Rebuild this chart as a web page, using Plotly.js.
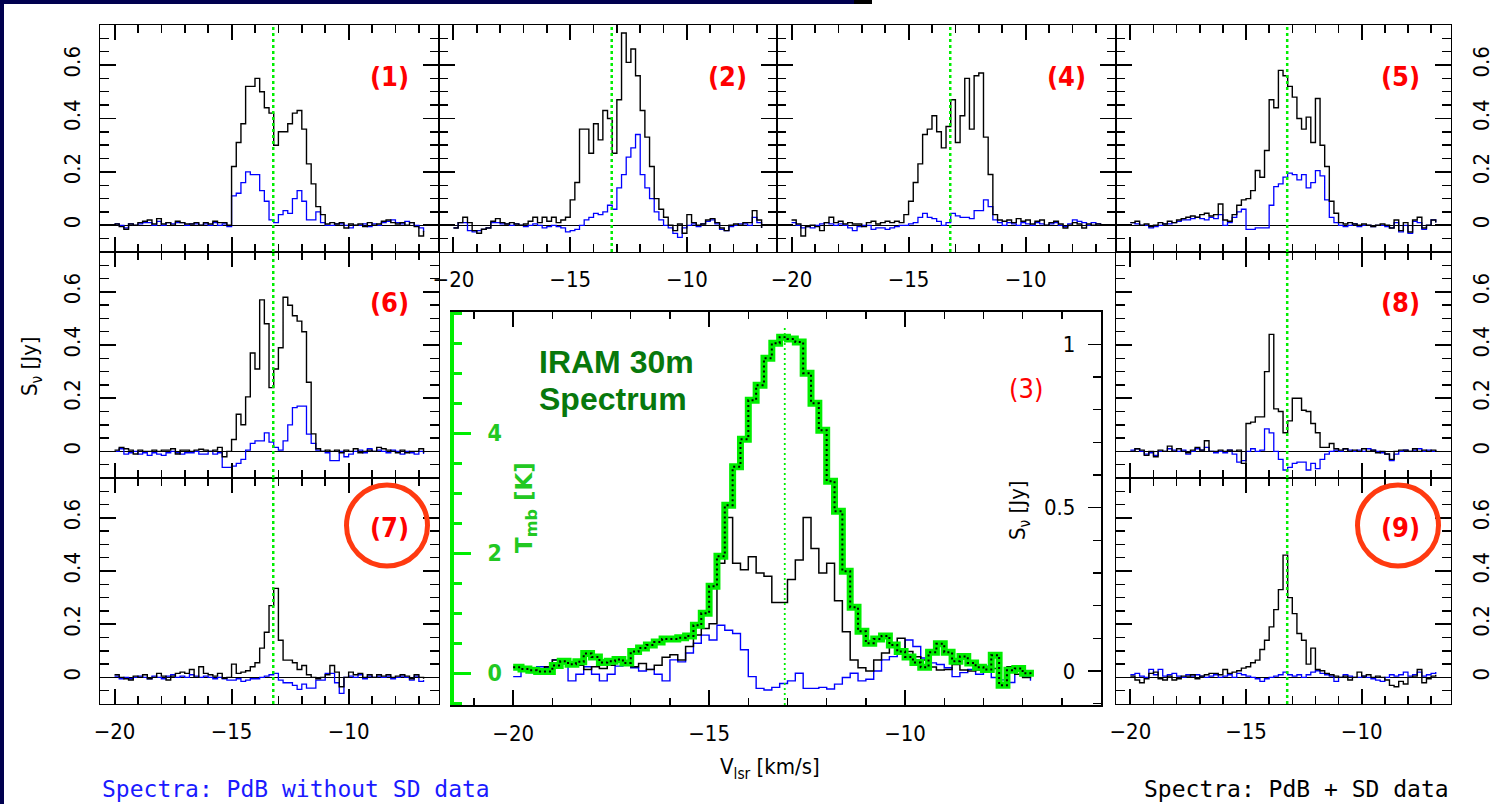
<!DOCTYPE html>
<html>
<head>
<meta charset="utf-8">
<script src="https://cdn.plot.ly/plotly-3.0.1.min.js"></script>
<style>
  html, body { margin: 0; padding: 0; background: #ffffff; }
  #chart { width: 1499px; height: 804px; }
</style>
</head>
<body>
<div id="chart"></div>
<script>
// Velocity channels (km/s), 0.2 km/s wide, left edge of each channel
const velocity = [-20.0,-19.8,-19.6,-19.4,-19.2,-19.0,-18.8,-18.6,-18.4,-18.2,
  -18.0,-17.8,-17.6,-17.4,-17.2,-17.0,-16.8,-16.6,-16.4,-16.2,
  -16.0,-15.8,-15.6,-15.4,-15.2,-15.0,-14.8,-14.6,-14.4,-14.2,
  -14.0,-13.8,-13.6,-13.4,-13.2,-13.0,-12.8,-12.6,-12.4,-12.2,
  -12.0,-11.8,-11.6,-11.4,-11.2,-11.0,-10.8,-10.6,-10.4,-10.2,
  -10.0,-9.8,-9.6,-9.4,-9.2,-9.0,-8.8,-8.6,-8.4,-8.2,
  -8.0,-7.8,-7.6,-7.4,-7.2,-7.0,-6.8];

// Systemic velocity marker (km/s)
const vSysSmall = -13.22;
const vSysCentral = -13.07;

// Tick labels
const velTicks = [-20, -15, -10];
const tmbTicks = [0, 2, 4];
const fluxTicksCentral = [0, 0.5, 1];

// S_nu [Jy], PdB + SD data (black) and PdB without SD data (blue), per position
const withSd1 = [0.005,-0.005,-0.015,0.005,0.0,0.01,0.015,0.02,0.005,0.025,0.005,0.01,0.0,0.015,0.01,0.005,0.005,0.01,0.0,0.01,0.005,0.015,0.01,0.01,0.0,
  0.22,0.31,0.38,0.52,0.52,0.55,0.50,0.44,0.42,0.30,0.35,0.35,0.38,0.42,0.43,0.36,0.23,0.155,0.07,0.04,0.005,
  0.01,0.005,0.01,-0.01,0.005,0.0,0.005,-0.005,0.01,0.0,0.005,0.015,0.02,0.01,0.005,0.01,0.0,0.01,-0.005,-0.04,-0.02];
const noSd1 = [0.005,0.0,-0.01,0.005,0.0,0.005,0.01,0.01,0.0,0.015,0.0,0.01,0.005,0.01,0.01,0.0,0.005,0.005,0.0,0.005,0.0,0.01,0.0,0.005,-0.005,
  0.11,0.12,0.16,0.20,0.19,0.19,0.13,0.09,0.02,0.01,0.04,0.055,0.045,0.10,0.13,0.09,0.02,0.02,0.05,0.01,0.0,
  0.0,0.005,0.005,0.0,-0.01,0.0,0.0,0.005,-0.005,0.005,0.0,0.01,0.015,0.02,0.01,0.005,0.015,0.01,0.0,-0.01,-0.025];

const withSd2 = [-0.01,0.01,0.03,0.01,-0.02,-0.03,-0.015,-0.01,0.015,0.025,0.01,0.005,0.01,0.005,0.0,0.005,0.015,0.03,0.01,0.03,0.015,0.03,0.01,0.02,0.03,
  0.095,0.16,0.36,0.36,0.27,0.38,0.32,0.43,0.40,0.27,0.47,0.72,0.61,0.66,0.56,0.43,0.33,0.22,0.10,0.06,0.03,
  0.0,-0.02,0.005,-0.03,0.04,0.01,0.0,0.005,0.02,0.025,0.01,-0.01,-0.02,0.0,0.005,0.0,0.01,0.01,0.055,0.02,-0.01];
const noSd2 = [-0.01,0.01,0.01,-0.02,-0.025,-0.02,-0.015,-0.01,0.01,0.01,0.005,0.005,0.0,0.005,0.0,-0.005,0.0,0.005,0.0,-0.01,-0.005,0.0,-0.005,-0.01,-0.025,
  -0.02,-0.015,0.0,0.02,0.03,0.045,0.04,0.05,0.075,0.06,0.14,0.19,0.255,0.29,0.34,0.19,0.14,0.10,0.05,0.02,0.0,
  -0.01,-0.03,-0.045,-0.01,0.0,0.005,-0.005,0.005,0.015,0.02,0.005,-0.015,-0.02,-0.005,0.0,0.005,0.005,0.0,0.03,0.01,-0.01];

const withSd4 = [0.02,0.005,-0.04,-0.005,0.0,-0.005,-0.02,0.01,0.03,0.01,0.015,0.005,0.01,0.005,0.005,-0.005,0.01,0.015,0.005,0.01,0.015,0.01,0.015,0.01,0.04,
  0.09,0.16,0.23,0.34,0.36,0.41,0.35,0.29,0.37,0.47,0.31,0.41,0.55,0.36,0.56,0.57,0.33,0.19,0.04,0.02,0.015,
  0.02,0.01,0.025,0.015,0.02,0.005,0.015,0.02,0.0,0.01,0.015,0.005,-0.01,0.0,0.01,0.005,-0.01,0.005,0.0,0.005,0.0];
const noSd4 = [0.01,0.0,-0.01,-0.005,-0.01,0.0,0.005,0.01,0.005,0.0,0.005,0.0,-0.01,-0.02,-0.005,0.0,0.0,-0.015,-0.01,-0.01,-0.015,-0.01,-0.005,0.0,0.0,
  0.005,0.01,0.03,0.045,0.03,0.025,0.015,0.0,0.01,0.045,0.035,0.03,0.03,0.025,0.055,0.055,0.095,0.07,0.02,0.01,0.0,
  0.01,0.005,0.0,0.01,0.005,0.0,0.01,0.005,0.0,0.005,0.01,0.0,-0.005,0.005,0.02,0.015,0.01,0.0,0.01,0.005,0.0];

const withSd5 = [0.01,0.015,0.0,0.005,-0.005,0.0,0.01,0.005,0.015,0.01,0.02,0.025,0.03,0.035,0.03,0.04,0.045,0.035,0.04,0.08,0.02,0.015,0.04,0.075,0.095,
  0.10,0.13,0.205,0.18,0.28,0.47,0.44,0.58,0.56,0.52,0.48,0.40,0.36,0.405,0.31,0.475,0.30,0.22,0.09,0.045,0.01,
  0.005,0.01,0.005,0.0,0.005,0.0,-0.005,0.0,0.005,0.0,-0.01,0.02,-0.02,0.01,-0.025,0.02,0.03,-0.01,0.0,0.02,0.01];
const noSd5 = [0.01,0.005,0.0,0.0,-0.01,-0.005,0.0,0.005,0.005,0.01,0.015,0.02,0.02,0.025,0.03,0.025,0.02,0.03,0.025,0.04,0.0,0.01,0.03,0.05,0.06,
  -0.015,-0.015,-0.01,-0.01,-0.01,0.075,0.145,0.155,0.18,0.195,0.19,0.17,0.19,0.14,0.16,0.205,0.185,0.095,0.03,0.01,0.0,
  -0.005,0.0,0.005,-0.005,0.0,0.0,-0.005,0.0,0.0,-0.005,-0.01,0.01,-0.025,0.0,-0.03,0.015,0.01,-0.015,0.0,0.02,0.01];

const withSd6 = [0.005,0.015,0.01,0.005,-0.01,0.005,0.0,0.0,0.005,0.0,0.005,0.005,0.01,-0.01,0.005,0.005,0.0,0.005,0.008,0.005,0.0,0.005,0.015,-0.02,0.0,
  0.045,0.14,0.10,0.205,0.37,0.31,0.57,0.48,0.24,0.31,0.39,0.58,0.55,0.51,0.49,0.45,0.26,0.066,0.01,0.0,0.005,
  0.0,0.005,-0.005,0.005,0.0,0.01,-0.005,0.0,0.005,0.0,0.015,0.01,0.005,0.0,-0.005,0.005,-0.005,0.0,0.0,0.01,-0.005];
const noSd6 = [0.0,0.01,-0.01,-0.005,0.0,-0.01,-0.005,-0.015,-0.005,-0.01,-0.015,-0.005,0.0,-0.005,-0.01,-0.005,-0.005,0.0,-0.01,-0.01,0.0,-0.01,-0.005,-0.06,-0.06,
  -0.055,-0.045,-0.03,0.005,0.03,0.04,0.04,0.07,0.035,0.015,0.005,0.04,0.10,0.165,0.17,0.17,0.065,0.03,0.005,0.0,-0.005,
  -0.035,-0.035,0.0,-0.02,-0.01,0.0,0.005,-0.005,0.01,0.0,0.005,0.0,-0.005,0.005,0.0,-0.01,0.0,-0.005,-0.01,0.0,-0.01];

const withSd7 = [0.01,0.0,-0.005,-0.01,0.005,0.0,0.01,-0.005,0.0,0.015,0.005,-0.01,0.005,0.015,0.02,0.015,0.03,0.0,0.04,0.015,0.01,0.005,0.015,-0.003,0.0,
  0.05,0.015,0.02,0.025,0.04,0.055,0.11,0.17,0.27,0.335,0.14,0.065,0.065,0.055,0.03,0.045,0.01,0.0,-0.005,0.0,0.01,
  0.045,0.02,-0.035,0.0,0.02,0.01,0.015,0.0,0.01,0.0,0.01,0.005,0.01,0.0,0.005,0.01,0.005,-0.005,0.01,0.0,-0.005];
const noSd7 = [0.005,-0.005,0.0,-0.005,0.0,0.005,0.0,-0.005,0.005,0.0,-0.005,0.005,0.01,0.0,0.005,0.0,0.01,0.005,0.0,0.005,0.0,-0.005,0.0,-0.005,-0.01,
  -0.01,-0.005,-0.015,-0.01,-0.005,-0.005,0.0,0.005,0.01,0.015,-0.01,-0.02,-0.02,-0.03,-0.045,-0.025,-0.04,-0.04,-0.01,-0.01,0.015,
  0.015,-0.02,-0.06,0.0,0.005,0.0,0.01,-0.005,0.005,0.0,0.005,0.0,0.005,-0.005,0.0,0.005,0.0,-0.01,0.005,-0.015,-0.01];

const withSd8 = [0.0,0.01,0.005,-0.015,0.0,-0.02,0.005,0.0,0.02,0.0,0.01,0.0,-0.005,0.005,0.015,0.005,0.04,0.0,0.0,0.005,0.0,0.005,0.0,0.005,-0.045,
  0.105,0.11,0.13,0.13,0.30,0.44,0.16,0.15,0.07,0.115,0.20,0.20,0.155,0.15,0.105,0.07,0.015,0.015,0.03,0.01,0.005,
  0.01,0.0,0.005,0.0,0.01,0.0,0.005,-0.005,0.0,-0.01,-0.03,0.0,0.005,0.005,0.0,0.01,0.0,0.005,0.0,0.005,0.0];
const noSd8 = [0.005,0.01,0.0,-0.01,-0.005,-0.015,0.0,0.0,0.01,0.005,0.0,0.005,-0.01,0.0,0.01,0.005,0.015,0.0,-0.005,0.0,-0.005,0.005,-0.01,-0.04,-0.035,
  0.0,0.01,0.0,0.005,0.085,0.07,0.0,-0.03,-0.07,-0.06,-0.045,-0.04,-0.04,-0.07,-0.045,-0.065,-0.03,-0.01,0.0,0.005,0.0,
  0.01,0.005,0.0,0.005,0.0,0.01,0.005,0.0,-0.005,-0.01,-0.035,-0.01,0.0,0.005,0.0,0.005,0.01,0.0,0.005,0.0,0.005];

const withSd9 = [0.005,-0.01,-0.02,-0.005,0.015,0.02,-0.005,-0.01,0.005,-0.01,-0.005,0.005,0.005,0.01,-0.005,0.005,0.01,0.015,0.015,0.01,0.03,0.015,0.02,0.025,0.035,
  0.04,0.055,0.065,0.105,0.14,0.19,0.255,0.33,0.46,0.30,0.24,0.165,0.14,0.05,0.11,0.03,0.025,0.015,0.01,0.005,0.0,
  0.005,-0.01,0.0,0.02,0.005,0.01,0.0,0.005,0.0,-0.01,-0.03,-0.035,-0.015,-0.025,0.0,0.005,0.03,-0.02,-0.005,0.005,0.01];
const noSd9 = [0.01,0.015,0.005,0.0,0.03,0.01,0.03,0.005,0.01,0.015,0.005,0.0,0.01,0.005,0.01,0.005,0.0,0.005,0.01,0.0,0.005,0.01,0.0,0.015,0.01,
  0.005,0.0,-0.005,-0.015,-0.005,0.0,0.005,0.01,0.02,0.01,0.005,0.01,0.0,0.01,0.02,0.025,0.015,0.01,0.005,-0.015,0.0,
  0.01,0.005,0.0,0.0,0.005,0.0,-0.005,-0.01,-0.015,0.0,0.01,0.005,0.01,0.02,0.005,0.01,0.02,0.005,0.01,0.015,0.02];

// Central position (3): interferometer spectra in Jy and the IRAM 30m spectrum in K
const withSd3 = [0.012,0.008,0.004,0.003,0.013,0.034,0.023,0.015,0.018,0.005,0.013,0.008,0.018,0.034,0.023,0.013,0.023,0.005,0.018,0.042,
  0.05,0.034,0.075,0.11,0.13,0.145,0.33,0.47,0.33,0.31,0.35,0.30,0.29,0.21,0.21,0.28,0.34,0.47,0.375,0.30,
  0.33,0.215,0.12,0.034,0.01,0.0,0.034,0.055,0.085,0.10,0.06,0.044,0.034,0.012,0.003,0.005,0.02,0.003,0.0,0.003,
  0.0,0.008,-0.04,0.013,-0.01,-0.02,-0.022];
const noSd3 = [-0.017,0.0,-0.005,0.013,0.01,0.034,0.03,-0.03,-0.01,0.013,-0.01,-0.03,-0.01,0.015,0.02,0.01,0.0,0.005,-0.01,-0.03,
  0.034,0.028,0.055,0.085,0.11,0.095,0.14,0.125,0.115,0.065,-0.017,-0.053,-0.058,-0.05,-0.038,-0.03,-0.007,-0.053,-0.053,-0.05,
  -0.055,-0.04,-0.02,-0.007,-0.03,-0.025,0.0,0.034,0.044,0.064,0.095,0.075,0.04,0.025,0.02,0.01,-0.017,-0.005,0.005,-0.01,
  0.015,-0.02,-0.027,-0.035,0.005,-0.015,-0.03];
const iram30m = [0.1,0.07,0.05,0.03,0.03,0.13,0.2,0.15,0.19,0.33,0.27,0.18,0.2,0.23,0.17,0.36,0.42,0.47,0.52,0.57,
  0.57,0.59,0.62,0.8,1.0,1.45,1.95,2.8,3.44,3.9,4.55,4.8,5.25,5.5,5.6,5.57,5.52,5.0,4.5,4.05,
  3.2,2.7,1.7,1.1,0.7,0.5,0.57,0.62,0.47,0.36,0.27,0.18,0.1,0.35,0.49,0.35,0.2,0.28,0.17,0.1,
  0.06,0.3,-0.2,0.05,0.08,0.0,-0.06];

// Axis ranges
const smallVelRange = [-20.62, -6.14];
const smallFluxRange = [-0.10, 0.75];
const centralVelRange = [-21.51, -5.0];
const centralFluxRange = [-0.104, 1.099];
const centralTmbRange = [-0.53, 6.02];

// ---- page geometry (pixels) ----
const W = 1499, H = 804;
const fx = p => p / W;
const fy = p => 1 - p / H;
const colEdges = [[100, 439], [439, 777], [777, 1116], [1116, 1451]];
const rowEdges = [[25, 252], [252, 478], [478, 704]];
const labelX = [389, 727, 1066, 1400];
const labelY = [76, 302, 527];

const thinFont = 'DejaVu Sans Condensed, DejaVu Sans, sans-serif';
const tickFont = { family: thinFont, size: 22, color: '#000000' };
const labelFont = { family: thinFont, size: 27, weight: 'bold', color: '#ff0000' };
const BLUE = '#0000ff';
const GREEN = '#00ee00';
const FRAME_W = 1.2;

const panels = [
  { label: '(1)', sd: withSd1, noSd: noSd1, col: 0, row: 0, xLabels: false },
  { label: '(2)', sd: withSd2, noSd: noSd2, col: 1, row: 0, xLabels: true },
  { label: '(4)', sd: withSd4, noSd: noSd4, col: 2, row: 0, xLabels: true },
  { label: '(5)', sd: withSd5, noSd: noSd5, col: 3, row: 0, xLabels: false },
  { label: '(6)', sd: withSd6, noSd: noSd6, col: 0, row: 1, xLabels: false },
  { label: '(8)', sd: withSd8, noSd: noSd8, col: 3, row: 1, xLabels: false },
  { label: '(7)', sd: withSd7, noSd: noSd7, col: 0, row: 2, xLabels: true, ring: true },
  { label: '(9)', sd: withSd9, noSd: noSd9, col: 3, row: 2, xLabels: true, ring: true }
];

const data = [];
const layout = {
  width: W, height: H,
  margin: { l: 0, r: 0, t: 0, b: 0 },
  paper_bgcolor: '#ffffff',
  plot_bgcolor: '#ffffff',
  showlegend: false,
  shapes: [],
  annotations: []
};

panels.forEach((p, i) => {
  const n = i + 1;
  const xs = n === 1 ? '' : String(n);
  const xName = 'x' + xs, yName = 'y' + xs;
  const [x0, x1] = colEdges[p.col];
  const [y0, y1] = rowEdges[p.row];

  data.push({ x: velocity, y: p.noSd, xaxis: xName, yaxis: yName, type: 'scatter', mode: 'lines',
    line: { shape: 'hv', color: BLUE, width: 1.3 }, hoverinfo: 'skip' });
  data.push({ x: velocity, y: p.sd, xaxis: xName, yaxis: yName, type: 'scatter', mode: 'lines',
    line: { shape: 'hv', color: '#000000', width: 1.4 }, hoverinfo: 'skip' });

  layout['xaxis' + xs] = {
    domain: [fx(x0), fx(x1)], range: smallVelRange, anchor: yName,
    showline: true, linecolor: '#000', linewidth: FRAME_W, mirror: 'ticks',
    ticks: 'inside', ticklen: 15, tickwidth: 2, tickcolor: '#000',
    tickmode: 'array', tickvals: velTicks,
    minor: { tickmode: 'linear', tick0: 0, dtick: 1, ticks: 'inside', ticklen: 8, tickwidth: 1.5, tickcolor: '#000' },
    showgrid: false, zeroline: false,
    showticklabels: p.xLabels, tickfont: tickFont, ticklabelstandoff: 7,
    fixedrange: true
  };
  layout['yaxis' + xs] = {
    domain: [fy(y1), fy(y0)], range: smallFluxRange, anchor: xName,
    side: p.col === 3 ? 'right' : 'left',
    showline: true, linecolor: '#000', linewidth: FRAME_W, mirror: 'ticks',
    ticks: 'inside', ticklen: 16, tickwidth: 1.6, tickcolor: '#000',
    tick0: 0, dtick: 0.2,
    minor: { dtick: 0.05, ticks: 'inside', ticklen: 9, tickwidth: 1.4, tickcolor: '#000' },
    showgrid: false, zeroline: true, zerolinecolor: '#000', zerolinewidth: 1,
    showticklabels: p.col === 0 || p.col === 3, tickangle: -90,
    tickfont: tickFont, ticklabelstandoff: 10,
    fixedrange: true
  };

  layout.shapes.push({ type: 'line', xref: xName, yref: yName + ' domain',
    x0: vSysSmall, x1: vSysSmall, y0: 0, y1: 1,
    line: { color: GREEN, width: 2.5, dash: '3px,3px' } });

  layout.annotations.push({ xref: 'paper', yref: 'paper', x: fx(labelX[p.col]), y: fy(labelY[p.row]),
    text: p.label, showarrow: false, xanchor: 'center', yanchor: 'middle', font: labelFont });

  if (p.ring) {
    const cx = labelX[p.col] - 2, cy = 525.5, r = 40.5;
    layout.shapes.push({ type: 'circle', xref: 'paper', yref: 'paper',
      x0: fx(cx - r), x1: fx(cx + r), y0: fy(cy + r), y1: fy(cy - r),
      line: { color: '#ff3a10', width: 5 } });
  }
});

// ---- central panel (3) ----
data.push({ x: velocity, y: iram30m, xaxis: 'x9', yaxis: 'y10', type: 'scatter', mode: 'lines',
  line: { shape: 'hv', color: GREEN, width: 7 }, hoverinfo: 'skip' });
data.push({ x: velocity, y: iram30m, xaxis: 'x9', yaxis: 'y10', type: 'scatter', mode: 'lines',
  line: { shape: 'hv', color: '#000000', width: 2, dash: '2px,3px' }, hoverinfo: 'skip' });
data.push({ x: velocity, y: noSd3, xaxis: 'x9', yaxis: 'y9', type: 'scatter', mode: 'lines',
  line: { shape: 'hv', color: BLUE, width: 1.4 }, hoverinfo: 'skip' });
data.push({ x: velocity, y: withSd3, xaxis: 'x9', yaxis: 'y9', type: 'scatter', mode: 'lines',
  line: { shape: 'hv', color: '#000000', width: 1.5 }, hoverinfo: 'skip' });

const cL = 454, cR = 1101, cT = 312, cB = 705;
layout.xaxis9 = {
  domain: [fx(cL), fx(cR)], range: centralVelRange, anchor: 'y9',
  showline: true, linecolor: '#000', linewidth: 1.6, mirror: 'ticks',
  ticks: 'inside', ticklen: 15, tickwidth: 2, tickcolor: '#000',
  tickmode: 'array', tickvals: velTicks,
  minor: { tickmode: 'linear', tick0: 0, dtick: 1, ticks: 'inside', ticklen: 7, tickwidth: 1.5, tickcolor: '#000' },
  showgrid: false, zeroline: false, tickfont: tickFont, ticklabelstandoff: 8,
  fixedrange: true
};
layout.yaxis9 = {
  domain: [fy(cB), fy(cT)], range: centralFluxRange, anchor: 'x9', side: 'right',
  showline: true, linecolor: '#000', linewidth: 1.6,
  ticks: 'inside', ticklen: 13, tickwidth: 1.6, tickcolor: '#000',
  tickmode: 'array', tickvals: fluxTicksCentral,
  minor: { tickmode: 'linear', tick0: 0, dtick: 0.1, ticks: 'inside', ticklen: 8, tickwidth: 1.4, tickcolor: '#000' },
  showgrid: false, zeroline: false,
  ticklabelposition: 'inside', ticklabeloverflow: 'allow', ticklabelstandoff: 14,
  tickfont: tickFont, fixedrange: true
};
layout.yaxis10 = {
  overlaying: 'y9', range: centralTmbRange, anchor: 'x9', side: 'left',
  showline: true, linecolor: GREEN, linewidth: 4,
  ticks: 'inside', ticklen: 17, tickwidth: 3, tickcolor: GREEN,
  tickmode: 'array', tickvals: tmbTicks,
  minor: { tickmode: 'linear', tick0: 0, dtick: 0.5, ticks: 'inside', ticklen: 8, tickwidth: 3, tickcolor: GREEN },
  showgrid: false, zeroline: false,
  ticklabelposition: 'inside', ticklabeloverflow: 'allow', ticklabelstandoff: 18,
  tickfont: { family: thinFont, size: 23, weight: 'bold', color: '#22c822' }, fixedrange: true
};
layout.shapes.push({ type: 'line', xref: 'x9', yref: 'y9 domain',
  x0: vSysCentral, x1: vSysCentral, y0: 0, y1: 0.967,
  line: { color: GREEN, width: 1.8, dash: '2px,3px' } });

// ---- page frame ----
layout.shapes.push({ type: 'rect', xref: 'paper', yref: 'paper', layer: 'below',
  x0: 0, x1: fx(4), y0: 0, y1: 1, fillcolor: '#00004f', line: { width: 0 } });
layout.shapes.push({ type: 'rect', xref: 'paper', yref: 'paper', layer: 'below',
  x0: 0, x1: fx(854), y0: fy(4), y1: 1, fillcolor: '#00004f', line: { width: 0 } });
layout.shapes.push({ type: 'rect', xref: 'paper', yref: 'paper', layer: 'below',
  x0: fx(854), x1: fx(872), y0: fy(4), y1: 1, fillcolor: '#000000', line: { width: 0 } });

// ---- texts ----
const ann = (x, y, text, font, extra) => Object.assign({ xref: 'paper', yref: 'paper',
  x: fx(x), y: fy(y), text, showarrow: false, xanchor: 'center', yanchor: 'middle', font }, extra || {});
const iramFont = { family: 'Liberation Sans, Arial, sans-serif', size: 32, weight: 'bold', color: '#08780c' };
const footFont = { family: 'DejaVu Sans Mono, monospace', size: 23 };
layout.annotations.push(
  ann(1026, 388, '(3)', { family: thinFont, size: 27, color: '#ff0000' }),
  ann(537, 362, 'IRAM 30m', iramFont, { xanchor: 'left' }),
  ann(537, 399, 'Spectrum', iramFont, { xanchor: 'left' }),
  ann(526, 508, 'T<sub>mb</sub> [K]', { family: 'DejaVu Sans, sans-serif', size: 23, weight: 'bold', color: '#22c822' }, { textangle: -90 }),
  ann(1019, 510, 'S<sub>ν</sub> [Jy]', { family: thinFont, size: 22, color: '#000' }, { textangle: -90 }),
  ann(31, 366, 'S<sub>ν</sub> [Jy]', { family: thinFont, size: 22, color: '#000' }, { textangle: -90 }),
  ann(770, 768, 'V<sub>lsr</sub> [km/s]', { family: thinFont, size: 22, color: '#000' }),
  ann(100, 789, 'Spectra: PdB without SD data', Object.assign({ color: '#1a1aff' }, footFont), { xanchor: 'left' }),
  ann(1451, 789, 'Spectra: PdB + SD data', Object.assign({ color: '#000' }, footFont), { xanchor: 'right' })
);

Plotly.newPlot('chart', data, layout, { displayModeBar: false, staticPlot: true });
</script>
</body>
</html>
